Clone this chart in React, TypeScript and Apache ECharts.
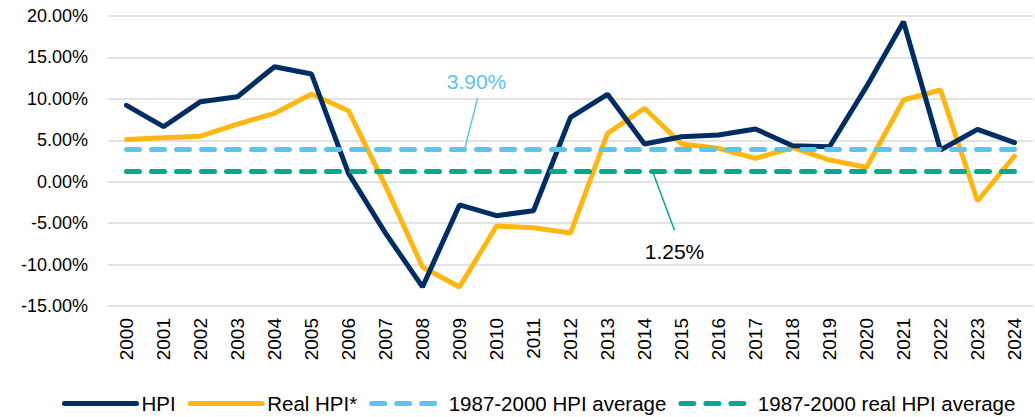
import React, { useEffect, useRef } from "react";
import * as echarts from "echarts";

const years = ["2000","2001","2002","2003","2004","2005","2006","2007","2008","2009","2010","2011","2012","2013","2014","2015","2016","2017","2018","2019","2020","2021","2022","2023","2024"];
const hpi = [9.22, 6.64, 9.66, 10.26, 13.88, 13.0, 1.0, -6.2, -12.7, -2.8, -4.1, -3.5, 7.77, 10.55, 4.55, 5.43, 5.64, 6.36, 4.35, 4.22, 11.47, 19.3, 3.83, 6.32, 4.71];
const realHpi = [5.1, 5.3, 5.5, 6.96, 8.25, 10.58, 8.57, -0.5, -10.3, -12.7, -5.35, -5.55, -6.2, 5.84, 8.86, 4.55, 4.03, 2.82, 4.1, 2.62, 1.74, 9.86, 11.07, -2.33, 3.1];
const hpiAverage = 3.9;
const realHpiAverage = 1.25;
const yTicks = { min: -15, max: 20, interval: 5 };

const NAVY = "#002D62";
const YELLOW = "#FDB714";
const LIGHTBLUE = "#5BC5EB";
const GREEN = "#00A98F";
const FONT = "Liberation Sans, Arial, sans-serif";

export default function App() {
  const ref = useRef<HTMLDivElement>(null);
  useEffect(() => {
    document.body.style.margin = "0";
    const chart = echarts.init(ref.current!, null, { renderer: "svg" });
    const avgSeries = (name: string, value: number, color: string) => ({
      name,
      type: "line",
      data: [],
      symbol: "none",
      lineStyle: { color, width: 5, type: [13, 12], cap: "round" },
      itemStyle: { color },
      markLine: {
        silent: true,
        symbol: "none",
        label: { show: false },
        lineStyle: { color, width: 5, type: [13, 12], cap: "round" },
        data: [[{ xAxis: years[0], yAxis: value }, { xAxis: years[years.length - 1], yAxis: value }]],
      },
    });
    chart.setOption({
      animation: false,
      textStyle: { fontFamily: FONT },
      grid: { left: 108, right: 2, top: 16, bottom: 111, containLabel: false },
      xAxis: {
        type: "category",
        data: years,
        boundaryGap: true,
        axisLine: { show: false },
        axisTick: { show: false },
        axisLabel: { rotate: 90, fontSize: 19, color: "#000", margin: 12, fontFamily: FONT },
      },
      yAxis: {
        type: "value",
        min: yTicks.min,
        max: yTicks.max,
        interval: yTicks.interval,
        axisLine: { show: false },
        axisTick: { show: false },
        splitLine: { lineStyle: { color: "#d9d9d9", width: 1.5 } },
        axisLabel: {
          fontSize: 18,
          color: "#000",
          margin: 20,
          fontFamily: FONT,
          formatter: (v: number) => v.toFixed(2) + "%",
        },
      },
      legend: {
        top: 388,
        left: 57,
        itemWidth: 72,
        itemHeight: 10,
        itemGap: 12,
        itemStyle: { opacity: 0 },
        lineStyle: { width: 5 },
        textStyle: { fontSize: 20.5, color: "#000", fontFamily: FONT },
        data: ["HPI", "Real HPI*", "1987-2000 HPI average", "1987-2000 real HPI average"],
      },
      series: [
        {
          name: "HPI",
          type: "line",
          data: hpi,
          symbol: "none",
          z: 4,
          lineStyle: { color: NAVY, width: 5, cap: "round" },
          itemStyle: { color: NAVY },
        },
        {
          name: "Real HPI*",
          type: "line",
          data: realHpi,
          symbol: "none",
          z: 3,
          lineStyle: { color: YELLOW, width: 5, cap: "round" },
          itemStyle: { color: YELLOW },
        },
        avgSeries("1987-2000 HPI average", hpiAverage, LIGHTBLUE),
        avgSeries("1987-2000 real HPI average", realHpiAverage, GREEN),
      ],
    });
    const a = chart.convertToPixel({ gridIndex: 0 }, [9, hpiAverage]) as number[];
    const b = chart.convertToPixel({ gridIndex: 0 }, [14, realHpiAverage]) as number[];
    chart.setOption({
      graphic: [
        {
          type: "line",
          shape: { x1: a[0] + 5, y1: a[1], x2: a[0] + 18, y2: a[1] - 51 },
          style: { stroke: LIGHTBLUE, lineWidth: 1.5 },
          z: 10,
        },
        {
          type: "text",
          x: a[0] + 17,
          y: a[1] - 68,
          style: {
            text: hpiAverage.toFixed(2) + "%",
            fill: LIGHTBLUE,
            font: `21px ${FONT}`,
            align: "center",
            verticalAlign: "middle",
          },
          z: 10,
        },
        {
          type: "line",
          shape: { x1: b[0] + 8, y1: b[1], x2: b[0] + 30, y2: b[1] + 59 },
          style: { stroke: GREEN, lineWidth: 1.5 },
          z: 10,
        },
        {
          type: "text",
          x: b[0] + 30,
          y: b[1] + 80,
          style: {
            text: realHpiAverage.toFixed(2) + "%",
            fill: "#000",
            font: `21px ${FONT}`,
            align: "center",
            verticalAlign: "middle",
          },
          z: 10,
        },
      ],
    });
    return () => chart.dispose();
  }, []);
  return <div ref={ref} style={{ width: 1035, height: 417 }} />;
}
